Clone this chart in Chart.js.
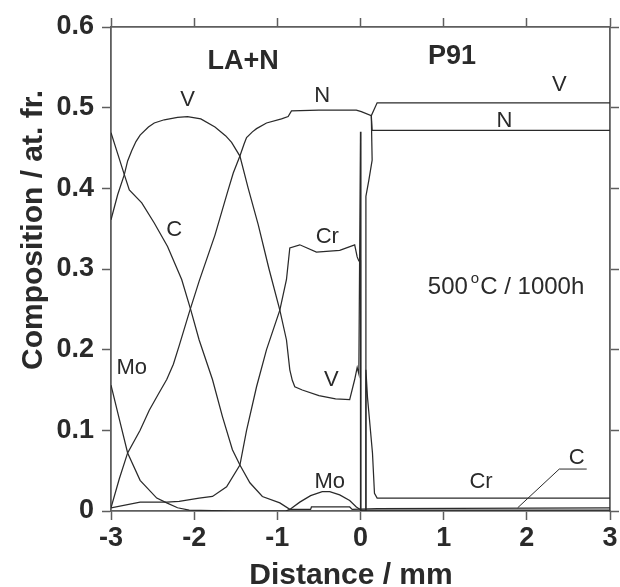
<!DOCTYPE html>
<html>
<head>
<meta charset="utf-8">
<script src="https://cdn.jsdelivr.net/npm/chart.js@4.4.1/dist/chart.umd.min.js"></script>
<style>
  html, body { margin: 0; padding: 0; background: #fff; }
</style>
</head>
<body>
<canvas id="chart" width="620" height="587"></canvas>
<script>
// composition profiles across the LA+N / P91 joint (distance in mm, at. fr.)
const vX  = [-3, -2.92, -2.84, -2.8, -2.75, -2.7, -2.65, -2.55, -2.48, -2.36, -2.2, -2.08, -1.92, -1.75, -1.62, -1.55, -1.45, -1.35, -1.23, -1.1, -0.97, -0.89, -0.85, -0.82, -0.79, -0.7, -0.5, -0.3, -0.13, -0.07, -0.04, -0.02, 0.0, 0.005, 0.06, 0.065, 0.1, 0.14, 0.13, 0.2, 3];
const vY  = [0.361, 0.392, 0.417, 0.434, 0.447, 0.458, 0.466, 0.476, 0.481, 0.485, 0.488, 0.489, 0.486, 0.476, 0.465, 0.457, 0.44, 0.40, 0.355, 0.30, 0.249, 0.212, 0.175, 0.162, 0.154, 0.15, 0.143, 0.139, 0.138, 0.163, 0.178, 0.17, 0.47, 0.0, 0.0, 0.39, 0.41, 0.435, 0.49, 0.506, 0.506];

const nX  = [-3, -2.9, -2.8, -2.65, -2.54, -2.43, -2.33, -2.25, -2.18, -2.06, -1.94, -1.75, -1.6, -1.53, -1.45, -1.4, -1.37, -1.3, -1.25, -1.13, -0.95, -0.87, -0.83, -0.5, -0.05, 0.01, 0.13, 0.14, 0.2, 3];
const nY  = [0.004, 0.04, 0.072, 0.1, 0.125, 0.145, 0.163, 0.182, 0.205, 0.246, 0.285, 0.342, 0.395, 0.419, 0.44, 0.455, 0.463, 0.47, 0.474, 0.481, 0.486, 0.489, 0.496, 0.497, 0.497, 0.495, 0.49, 0.472, 0.472, 0.472];

const cX  = [-3, -2.92, -2.84, -2.78, -2.63, -2.48, -2.32, -2.15, -2.04, -1.94, -1.78, -1.66, -1.54, -1.45, -1.33, -1.18, -0.97, -0.85, -0.6, -0.59, -0.13, -0.1, 0.2, 3];
const cY  = [0.469, 0.443, 0.417, 0.398, 0.382, 0.357, 0.328, 0.287, 0.249, 0.212, 0.163, 0.117, 0.076, 0.057, 0.035, 0.018, 0.01, 0.002, 0.002, 0.005, 0.005, 0.002, 0.003, 0.004];

const crX = [-3, -2.65, -2.33, -2.18, -1.94, -1.78, -1.61, -1.45, -1.37, -1.25, -1.13, -0.97, -0.89, -0.85, -0.73, -0.53, -0.25, -0.07, -0.04, -0.02, 0.0, 0.0, 0.01, 0.065, 0.065, 0.084, 0.144, 0.168, 0.2, 3];
const crY = [0.004, 0.011, 0.011, 0.012, 0.016, 0.018, 0.03, 0.057, 0.1, 0.154, 0.2, 0.249, 0.287, 0.326, 0.33, 0.321, 0.323, 0.33, 0.315, 0.31, 0.31, 0.0, 0.0, 0.0, 0.175, 0.141, 0.072, 0.022, 0.016, 0.016];

const moX = [-3, -2.9, -2.8, -2.65, -2.45, -2.33, -2.2, -2.06, -1.5, -0.9, -0.85, -0.73, -0.6, -0.46, -0.37, -0.25, -0.13, -0.05, 0.01, 0.2, 3];
const moY = [0.156, 0.114, 0.072, 0.038, 0.016, 0.01, 0.004, 0.001, 0.0, 0.0, 0.002, 0.011, 0.019, 0.024, 0.024, 0.02, 0.013, 0.005, 0.001, 0.001, 0.001];

// leader line from the "C" label to the P91 carbon level
const leaderX = [2.72, 2.39, 1.89];
const leaderY = [0.052, 0.052, 0.004];

// curve labels: [text, x, y]
const curveLabels = [
  ['V', -2.08, 0.51], ['N', -0.46, 0.514], ['V', 2.39, 0.528], ['N', 1.73, 0.483],
  ['C', -2.24, 0.349], ['Cr', -0.4, 0.34], ['V', -0.35, 0.163], ['Mo', -2.75, 0.177],
  ['Mo', -0.37, 0.036], ['Cr', 1.45, 0.036], ['C', 2.6, 0.066]
];
const regionLabels = [['LA+N', -1.41, 0.557], ['P91', 1.1, 0.563]];

const FONT = "'Liberation Sans', Arial, Helvetica, sans-serif";
const INK = '#2a2a2a';
const FRAME = '#5e5e5e';

function zip(xs, ys) {
  return xs.map((x, i) => ({ x: x, y: ys[i] }));
}

function profile(xs, ys) {
  return { data: zip(xs, ys), borderColor: INK, borderWidth: 1.25, pointRadius: 0, tension: 0, fill: false };
}

const textPlugin = {
  id: 'textPlugin',
  afterDraw(chart) {
    const ctx = chart.ctx;
    const xs = chart.scales.x, ys = chart.scales.y;
    ctx.save();
    ctx.fillStyle = INK;
    ctx.textAlign = 'center';
    ctx.textBaseline = 'middle';

    ctx.font = 'bold 27px ' + FONT;
    regionLabels.forEach(l => ctx.fillText(l[0], xs.getPixelForValue(l[1]), ys.getPixelForValue(l[2])));

    ctx.font = '22px ' + FONT;
    curveLabels.forEach(l => ctx.fillText(l[0], xs.getPixelForValue(l[1]), ys.getPixelForValue(l[2])));

    // 500 °C / 1000h with raised "o"
    const bx = xs.getPixelForValue(1.75), by = ys.getPixelForValue(0.277);
    ctx.font = '24px ' + FONT;
    const w1 = ctx.measureText('500').width;
    const w3 = ctx.measureText('C / 1000h').width;
    ctx.font = '15px ' + FONT;
    const w2 = ctx.measureText('o').width + 4;
    let left = bx - (w1 + w2 + w3) / 2;
    ctx.textAlign = 'left';
    ctx.font = '24px ' + FONT;
    ctx.fillText('500', left, by);
    ctx.font = '15px ' + FONT;
    ctx.fillText('o', left + w1 + 3, by - 9);
    ctx.font = '24px ' + FONT;
    ctx.fillText('C / 1000h', left + w1 + w2, by);

    // axis titles
    ctx.font = 'bold 30px ' + FONT;
    ctx.textAlign = 'center';
    ctx.textBaseline = 'alphabetic';
    ctx.fillText('Distance / mm', 351, 584);
    ctx.translate(42, 230);
    ctx.rotate(-Math.PI / 2);
    ctx.fillText('Composition / at. fr.', 0, 0);
    ctx.restore();
  }
};

function frameAxis(extra) {
  return Object.assign({
    type: 'linear',
    grid: { drawOnChartArea: false, drawTicks: true, tickLength: 9, color: FRAME, tickWidth: 1.5 },
    border: { display: true, color: FRAME, width: 1.8 }
  }, extra);
}

new Chart(document.getElementById('chart'), {
  type: 'line',
  data: {
    datasets: [
      profile(vX, vY),
      profile(nX, nY),
      profile(cX, cY),
      profile(crX, crY),
      profile(moX, moY),
      Object.assign(profile(leaderX, leaderY), { borderWidth: 1 })
    ]
  },
  options: {
    responsive: false,
    animation: false,
    layout: { padding: 0 },
    plugins: { legend: { display: false }, tooltip: { enabled: false } },
    scales: {
      x: frameAxis({
        position: 'bottom', min: -3, max: 3,
        ticks: { stepSize: 1, color: INK, padding: 2, font: { family: FONT, size: 27, weight: 'bold' } },
        afterFit: s => { s.height = 76; }
      }),
      xTop: frameAxis({
        position: 'top', min: -3, max: 3,
        ticks: { stepSize: 1, display: false },
        afterFit: s => { s.height = 27; }
      }),
      y: frameAxis({
        position: 'left', min: 0, max: 0.6,
        ticks: { stepSize: 0.1, color: INK, padding: 8, font: { family: FONT, size: 27, weight: 'bold' } },
        afterFit: s => { s.width = 111; }
      }),
      yRight: frameAxis({
        position: 'right', min: 0, max: 0.6,
        ticks: { stepSize: 0.1, display: false },
        afterFit: s => { s.width = 10; }
      })
    }
  },
  plugins: [textPlugin]
});
</script>
</body>
</html>
